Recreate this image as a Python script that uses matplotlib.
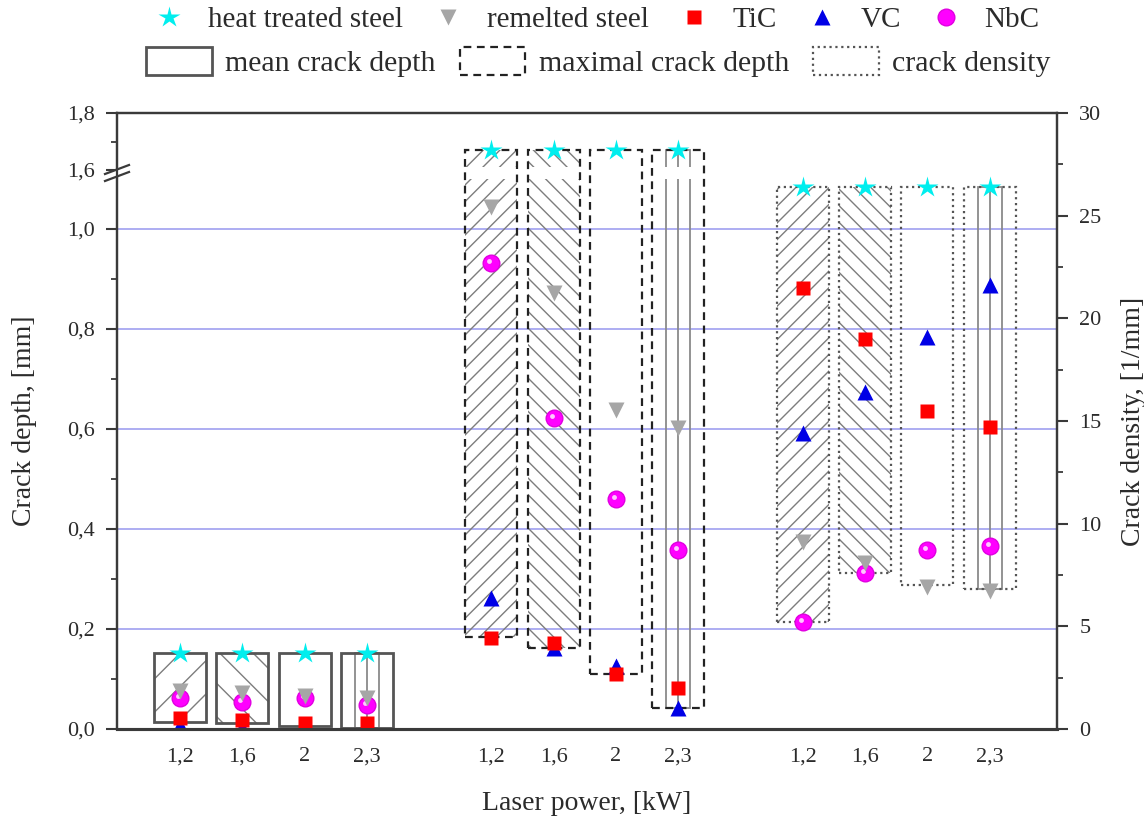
import numpy as np
import matplotlib.pyplot as plt
from matplotlib.lines import Line2D
from matplotlib.patches import Rectangle, Polygon
from matplotlib.transforms import offset_copy

plt.rcParams['font.family'] = ['Liberation Serif', 'DejaVu Serif']
plt.rcParams['hatch.linewidth'] = 1.0

# laser power, kW
power_labels = ['1,2', '1,6', '2', '2,3']

# mean crack depth, mm
mean_heat = [0.152, 0.152, 0.152, 0.152]
mean_remelt = [0.076, 0.072, 0.066, 0.062]
mean_tic = [0.022, 0.018, 0.013, 0.012]
mean_vc = [0.008, 0.005, 0.003, 0.0]
mean_nbc = [0.063, 0.055, 0.062, 0.048]
mean_low = [0.014, 0.012, 0.006, 0.002]
mean_high = [0.152, 0.152, 0.152, 0.152]

# maximal crack depth, mm
max_heat = [1.67, 1.67, 1.67, 1.67]
max_remelt = [1.044, 0.872, 0.638, 0.602]
max_tic = [0.182, 0.172, 0.11, 0.082]
max_vc = [0.262, 0.162, 0.126, 0.042]
max_nbc = [0.932, 0.622, 0.46, 0.358]
max_low = [0.184, 0.162, 0.11, 0.042]
max_high = [1.67, 1.67, 1.67, 1.67]

# crack density, 1/mm
dens_heat = [26.4, 26.4, 26.4, 26.4]
dens_remelt = [9.1, 8.1, 6.9, 6.7]
dens_tic = [21.5, 19.0, 15.5, 14.7]
dens_vc = [14.4, 16.4, 19.1, 21.6]
dens_nbc = [5.2, 7.6, 8.7, 8.9]
dens_low = [5.2, 7.6, 7.0, 6.8]
dens_high = [26.4, 26.4, 26.4, 26.4]

depth_ticks = [0.0, 0.2, 0.4, 0.6, 0.8, 1.0, 1.6, 1.8]
depth_ticklabels = ['0,0', '0,2', '0,4', '0,6', '0,8', '1,0', '1,6', '1,8']
depth_minor = [0.1, 0.3, 0.5, 0.7, 0.9, 1.7]
dens_ticks = [0, 5, 10, 15, 20, 25, 30]
dens_minor = [2.5, 7.5, 12.5, 17.5, 22.5, 27.5]
grid_levels = [0.2, 0.4, 0.6, 0.8, 1.0]

txt = '#2b2b2b'
axc = '#3a3a3a'

# broken depth axis: 0..1.1 linear, jump, then 1.57..1.8 compressed
brk_data = [-1.0, 1.1, 1.57, 3.0]
brk_t = [-1.0, 1.1, 1.1009, 1.118 + (3.0 - 1.6) * 0.57]


def fwd(y):
    return np.interp(y, brk_data, brk_t)


def inv(t):
    return np.interp(t, brk_t, brk_data)


styles = {
    'heat': dict(marker='*', color='#00eeee', ms=16, mec='none'),
    'remelt': dict(marker='v', color='#a6a6a6', ms=12, mec='none'),
    'tic': dict(marker='s', color='#ff0000', ms=10, mec='none'),
    'vc': dict(marker='^', color='#0000e6', ms=12, mec='none'),
    'nbc': dict(marker='o', color='#ff00ff', ms=12, mec='#e000e0'),
}

fig = plt.figure(figsize=(11.44, 8.17), dpi=100)
ax = fig.add_axes([117 / 1144, 88 / 817, 940 / 1144, 616 / 817])
ax.set_yscale('function', functions=(fwd, inv))
ax2 = ax.twinx()

width = 0.835
x1 = np.arange(4)
x2 = x1 + 5
x3 = x1 + 10
fills = ['/', '\\', None, 'lines']


def draw_bars(a, x, low, high, dense, ls, ec, lw):
    low = np.asarray(low)
    high = np.asarray(high)
    h = high - low
    for i in range(4):
        f = fills[i]
        if f in ('/', '\\'):
            a.bar(x[i], h[i], width, bottom=low[i], facecolor='none',
                  edgecolor='#7d7d7d', linewidth=0, hatch=f * dense, zorder=1)
        elif f == 'lines':
            a.bar(x[i], h[i], width * 0.46, bottom=low[i], facecolor='none',
                  edgecolor='#8a8a8a', linewidth=1.3, zorder=1)
            a.vlines(x[i], low[i], high[i], color='#8a8a8a', linewidth=1.3, zorder=1)
    a.bar(x, h, width, bottom=low, facecolor='none', edgecolor=ec,
          linewidth=lw, linestyle=ls, zorder=2)


def draw_points(a, x, nbc, remelt, vc, tic, heat):
    a.plot(x, nbc, ls='none', zorder=3, **styles['nbc'])
    # small highlight to give the NbC balls some shine
    shine = offset_copy(a.transData, fig=fig, x=-2, y=2, units='dots')
    a.plot(x, nbc, ls='none', marker='o', ms=3.5, color='#ffc8ff', mec='none',
           transform=shine, zorder=3)
    a.plot(x, remelt, ls='none', zorder=3, **styles['remelt'])
    a.plot(x, vc, ls='none', zorder=3, **styles['vc'])
    a.plot(x, tic, ls='none', zorder=3, **styles['tic'])
    a.plot(x, heat, ls='none', zorder=3, **styles['heat'])


for v in grid_levels:
    ax.axhline(v, color='#a0a0f0', lw=1.2, zorder=0.5)

draw_bars(ax, x1, mean_low, mean_high, 1, '-', '#555555', 2.0)
draw_bars(ax, x2, max_low, max_high, 2, (0, (3.5, 2.5)), '#222222', 1.6)
# gap in the hatching at the axis break
ax.axhspan(1.1, 1.61, facecolor='white', edgecolor='none', zorder=1.5)
draw_bars(ax2, x3, dens_low, dens_high, 2, ':', '#555555', 1.6)

draw_points(ax, x1, mean_nbc, mean_remelt, mean_vc, mean_tic, mean_heat)
draw_points(ax, x2, max_nbc, max_remelt, max_vc, max_tic, max_heat)
draw_points(ax2, x3, dens_nbc, dens_remelt, dens_vc, dens_tic, dens_heat)

ax.set_xlim(-1.011, 14.08)
ax.set_ylim(0, 1.8)
ax2.set_ylim(0, 30)

ax.set_xticks(np.concatenate([x1, x2, x3]))
ax.set_xticklabels(power_labels * 3)
ax.set_yticks(depth_ticks)
ax.set_yticklabels(depth_ticklabels)
ax.set_yticks(depth_minor, minor=True)
ax2.set_yticks(dens_ticks)
ax2.set_yticks(dens_minor, minor=True)

for a in (ax, ax2):
    for s in a.spines.values():
        s.set_linewidth(1.6)
        s.set_color(axc)
    a.spines['bottom'].set_linewidth(2.2)
    a.tick_params(axis='y', which='major', direction='out', length=8, width=1.5,
                  color=axc, labelsize=16, labelcolor=txt, pad=8)
    a.tick_params(axis='y', which='minor', direction='out', length=4.5, width=1.3,
                  color=axc)
ax.tick_params(axis='x', length=0, labelsize=16, labelcolor=txt, pad=13)

ax.set_xlabel('Laser power, [kW]', fontsize=20, color=txt)
ax.xaxis.set_label_coords(0.5, -0.1)
ax.set_ylabel('Crack depth, [mm]', fontsize=20, color=txt)
ax.yaxis.set_label_coords(-0.085, 0.5)
ax2.set_ylabel('Crack density, [1/mm]', fontsize=20, color=txt)
ax2.yaxis.set_label_coords(1.068, 0.5)


# break marks on the left spine
def to_ax(px, py):
    return ((px - 117) / 940, (729 - py) / 616)


p1, p2, p3, p4 = to_ax(105, 181), to_ax(129, 172), to_ax(129, 165), to_ax(105, 174)
ax.add_patch(Polygon([p1, p2, p3, p4], closed=True, facecolor='white', edgecolor='none',
                     transform=ax.transAxes, clip_on=False, zorder=5))
ax.plot([p4[0], p3[0]], [p4[1], p3[1]], color=axc, lw=1.6, transform=ax.transAxes,
        clip_on=False, zorder=6)
ax.plot([p1[0], p2[0]], [p1[1], p2[1]], color=axc, lw=1.6, transform=ax.transAxes,
        clip_on=False, zorder=6)

# legends
marker_handles = [Line2D([], [], ls='none', **styles[k])
                  for k in ['heat', 'remelt', 'tic', 'vc', 'nbc']]
marker_labels = ['heat treated steel', 'remelted steel', 'TiC', 'VC', 'NbC']
fig.legend(marker_handles, marker_labels, loc='center', bbox_to_anchor=(0.522, 1 - 20 / 817),
           ncol=5, frameon=False, fontsize=21, handlelength=1.0, handletextpad=0.83,
           columnspacing=1.04, borderpad=0, borderaxespad=0, labelcolor=txt)

box_handles = [
    Rectangle((0, 0), 1, 1, facecolor='white', edgecolor='#555555', lw=2.0),
    Rectangle((0, 0), 1, 1, facecolor='white', edgecolor='#222222', lw=1.6,
              ls=(0, (3.5, 2.5))),
    Rectangle((0, 0), 1, 1, facecolor='white', edgecolor='#555555', lw=1.6, ls=':'),
]
box_labels = ['mean crack depth', 'maximal crack depth', 'crack density']
fig.legend(box_handles, box_labels, loc='center', bbox_to_anchor=(0.523, 1 - 62 / 817),
           ncol=3, frameon=False, fontsize=21.5, handlelength=2.2, handleheight=1.1,
           handletextpad=0.45, columnspacing=0.8, borderpad=0, borderaxespad=0,
           labelcolor=txt)

fig.savefig('out.png', dpi=100)
